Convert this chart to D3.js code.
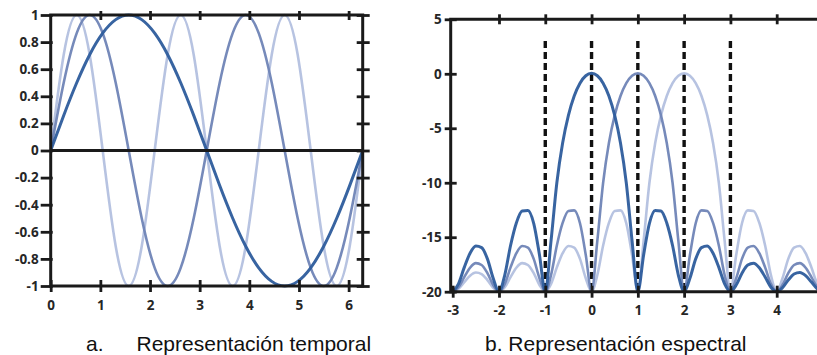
<!DOCTYPE html>
<html>
<head>
<meta charset="utf-8">
<script src="https://cdn.jsdelivr.net/npm/d3@7"></script>
<style>
  html, body { margin: 0; padding: 0; background: #fff; }
  svg { display: block; }
</style>
</head>
<body>
<svg id="chart" width="817" height="355"></svg>
<script>
// ---------- Data: temporal representation ----------
const timeX = [0, 0.262, 0.524, 0.785, 1.047, 1.309, 1.571, 1.833, 2.094, 2.356, 2.618, 2.880, 3.142,
               3.403, 3.665, 3.927, 4.189, 4.451, 4.712, 4.974, 5.236, 5.498, 5.760, 6.021, 6.283];
const waveSlow = [0, 0.259, 0.5, 0.707, 0.866, 0.966, 1, 0.966, 0.866, 0.707, 0.5, 0.259, 0,
                  -0.259, -0.5, -0.707, -0.866, -0.966, -1, -0.966, -0.866, -0.707, -0.5, -0.259, 0];
const waveMid = [0, 0.5, 0.866, 1, 0.866, 0.5, 0, -0.5, -0.866, -1, -0.866, -0.5, 0,
                 0.5, 0.866, 1, 0.866, 0.5, 0, -0.5, -0.866, -1, -0.866, -0.5, 0];
const waveFast = [0, 0.707, 1, 0.707, 0, -0.707, -1, -0.707, 0, 0.707, 1, 0.707, 0,
                  -0.707, -1, -0.707, 0, 0.707, 1, 0.707, 0, -0.707, -1, -0.707, 0];
const timeXTicks = [0, 1, 2, 3, 4, 5, 6];
const timeYTicks = [-1, -0.8, -0.6, -0.4, -0.2, 0, 0.2, 0.4, 0.6, 0.8, 1];

// ---------- Data: spectral representation ----------
const freqX = [-3, -2.875, -2.75, -2.625, -2.5, -2.375, -2.25, -2.125, -2, -1.875, -1.75, -1.625, -1.5,
  -1.375, -1.25, -1.125, -1, -0.875, -0.75, -0.625, -0.5, -0.375, -0.25, -0.125, 0, 0.125, 0.25, 0.375,
  0.5, 0.625, 0.75, 0.875, 1, 1.125, 1.25, 1.375, 1.5, 1.625, 1.75, 1.875, 2, 2.125, 2.25, 2.375, 2.5,
  2.625, 2.75, 2.875, 3, 3.125, 3.25, 3.375, 3.5, 3.625, 3.75, 3.875, 4, 4.125, 4.25, 4.375, 4.5, 4.625,
  4.75, 4.875, 5];
const specA = [-20, -19.28, -17.77, -16.47, -15.81, -15.96, -16.99, -18.77, -20, -18.47, -15.76, -13.69,
  -12.59, -12.54, -13.72, -16.63, -20, -15.32, -10.00, -6.36, -3.82, -2.04, -0.86, -0.18, 0.04, -0.18,
  -0.86, -2.04, -3.82, -6.36, -10.00, -15.32, -20, -16.63, -13.72, -12.54, -12.59, -13.69, -15.76,
  -18.47, -20, -18.77, -16.99, -15.96, -15.81, -16.47, -17.77, -19.28, -20, -19.39, -18.30, -17.55,
  -17.38, -17.80, -18.66, -19.59, -20, -19.64, -18.93, -18.38, -18.24, -18.53, -19.12, -19.74, -20];
const specB = [-20, -19.59, -18.66, -17.80, -17.38, -17.55, -18.30, -19.39, -20, -19.28, -17.77, -16.47,
  -15.81, -15.96, -16.99, -18.77, -20, -18.47, -15.76, -13.69, -12.59, -12.54, -13.72, -16.63, -20,
  -15.32, -10.00, -6.36, -3.82, -2.04, -0.86, -0.18, 0.04, -0.18, -0.86, -2.04, -3.82, -6.36, -10.00,
  -15.32, -20, -16.63, -13.72, -12.54, -12.59, -13.69, -15.76, -18.47, -20, -18.77, -16.99, -15.96,
  -15.81, -16.47, -17.77, -19.28, -20, -19.39, -18.30, -17.55, -17.38, -17.80, -18.66, -19.59, -20];
const specC = [-20, -19.74, -19.12, -18.53, -18.24, -18.38, -18.93, -19.64, -20, -19.59, -18.66, -17.80,
  -17.38, -17.55, -18.30, -19.39, -20, -19.28, -17.77, -16.47, -15.81, -15.96, -16.99, -18.77, -20,
  -18.47, -15.76, -13.69, -12.59, -12.54, -13.72, -16.63, -20, -15.32, -10.00, -6.36, -3.82, -2.04,
  -0.86, -0.18, 0.04, -0.18, -0.86, -2.04, -3.82, -6.36, -10.00, -15.32, -20, -16.63, -13.72, -12.54,
  -12.59, -13.69, -15.76, -18.47, -20, -18.77, -16.99, -15.96, -15.81, -16.47, -17.77, -19.28, -20];
const freqXTicks = [-3, -2, -1, 0, 1, 2, 3, 4];
const freqYTicks = [5, 0, -5, -10, -15, -20];
const markerFreqs = [-1, 0, 1, 2, 3];
const markerTop = 3;

const captionLetters = ["a.", "b."];
const captionTexts = ["Representación temporal", "Representación espectral"];

// ---------- Styles ----------
const colDark = "#2d5c9c", colMid = "#6f84b6", colLight = "#b3c0df";
const axisCol = "#1a1a1a";
const tickFont = "'Open Sans', sans-serif";

const svg = d3.select("#chart");
const defs = svg.append("defs");

function styleAxis(g) {
  g.select(".domain").remove();
  g.selectAll(".tick line").attr("stroke", axisCol).attr("stroke-width", 2.8);
  g.selectAll(".tick text").attr("fill", "#262626").attr("font-family", tickFont)
    .attr("font-weight", "bold").attr("font-size", 13.5);
}

// ================= LEFT: temporal =================
const L = { x0: 50.7, x1: 362.7, yTop: 15, yBot: 286 };
const xT = d3.scaleLinear().domain([0, 2 * Math.PI]).range([L.x0, L.x1]);
const yT = d3.scaleLinear().domain([-1, 1]).range([L.yBot, L.yTop]);

defs.append("clipPath").attr("id", "clipL").append("rect")
  .attr("x", L.x0).attr("y", L.yTop - 2).attr("width", L.x1 - L.x0).attr("height", L.yBot - L.yTop + 4);

const gL = svg.append("g");
const lineT = d3.line().x(d => xT(d[0])).y(d => yT(d[1])).curve(d3.curveNatural);
const tSeries = [
  { v: waveFast, c: colLight, w: 2.6 },
  { v: waveMid, c: colMid, w: 2.6 },
  { v: waveSlow, c: colDark, w: 3 }
];
gL.append("g").attr("clip-path", "url(#clipL)").selectAll("path").data(tSeries).join("path")
  .attr("d", s => lineT(timeX.map((t, i) => [t, s.v[i]])))
  .attr("fill", "none").attr("stroke", s => s.c).attr("stroke-width", s => s.w).attr("opacity", 0.95);

// frame + zero line
gL.append("line").attr("x1", L.x0).attr("x2", L.x1).attr("y1", yT(0)).attr("y2", yT(0))
  .attr("stroke", axisCol).attr("stroke-width", 3);
gL.append("rect").attr("x", L.x0).attr("y", L.yTop).attr("width", L.x1 - L.x0).attr("height", L.yBot - L.yTop)
  .attr("fill", "none").attr("stroke", axisCol).attr("stroke-width", 3);

// bottom axis
const axBL = gL.append("g").attr("transform", `translate(0,${L.yBot})`)
  .call(d3.axisBottom(xT).tickValues(timeXTicks).tickFormat(d3.format("d")).tickSize(6).tickPadding(8));
styleAxis(axBL);
axBL.selectAll(".tick line").attr("y1", -6).attr("y2", 6);
// top ticks
const axTL = gL.append("g").attr("transform", `translate(0,${L.yTop})`)
  .call(d3.axisTop(xT).tickValues(timeXTicks.slice(1)).tickFormat("").tickSize(5));
styleAxis(axTL);
axTL.selectAll(".tick line").attr("y1", -4).attr("y2", 5);
// left axis
const axLL = gL.append("g").attr("transform", `translate(${L.x0},0)`)
  .call(d3.axisLeft(yT).tickValues(timeYTicks).tickSize(10).tickPadding(2));
styleAxis(axLL);
axLL.selectAll(".tick line").attr("x1", 2).attr("x2", -10);
axLL.selectAll(".tick text").text(d => String(d));
// right ticks
const axRL = gL.append("g").attr("transform", `translate(${L.x1},0)`)
  .call(d3.axisRight(yT).tickValues(timeYTicks).tickFormat("").tickSize(6));
styleAxis(axRL);
axRL.selectAll(".tick line").attr("x1", -6).attr("x2", 7);

// ================= RIGHT: spectral =================
const R = { x0: 450.7, yTop: 19.3, yBot: 291.7 };
const xF = d3.scaleLinear().domain([-3, 4]).range([452.7, 776.7]);
const yF = d3.scaleLinear().domain([-20, 5]).range([R.yBot, R.yTop]);
const xRight = xF(5);

defs.append("clipPath").attr("id", "clipR").append("rect")
  .attr("x", R.x0).attr("y", R.yTop - 2).attr("width", 817 - R.x0).attr("height", R.yBot - R.yTop + 4);

const gR = svg.append("g");

// dashed markers
gR.append("g").selectAll("line").data(markerFreqs).join("line")
  .attr("x1", d => xF(d)).attr("x2", d => xF(d))
  .attr("y1", yF(markerTop)).attr("y2", yF(-20))
  .attr("stroke", "#111").attr("stroke-width", 3.4).attr("stroke-dasharray", "7,4");

const lineF = d3.line().x(d => xF(d[0])).y(d => yF(d[1])).curve(d3.curveMonotoneX);
const fSeries = [
  { v: specC, c: colLight, w: 2.6 },
  { v: specB, c: colMid, w: 2.6 },
  { v: specA, c: colDark, w: 3 }
];
gR.append("g").attr("clip-path", "url(#clipR)").selectAll("path").data(fSeries).join("path")
  .attr("d", s => lineF(freqX.map((f, i) => [f, s.v[i]])))
  .attr("fill", "none").attr("stroke", s => s.c).attr("stroke-width", s => s.w).attr("opacity", 0.95);

// frame
gR.append("path")
  .attr("d", `M${xRight},${R.yTop}H${R.x0}V${R.yBot}H${xRight}`)
  .attr("fill", "none").attr("stroke", axisCol).attr("stroke-width", 3);

const axBR = gR.append("g").attr("transform", `translate(0,${R.yBot})`)
  .call(d3.axisBottom(xF).tickValues(freqXTicks).tickSize(6).tickPadding(8));
styleAxis(axBR);
axBR.selectAll(".tick line").attr("y1", -6).attr("y2", 6);
axBR.selectAll(".tick text").text(d => String(d));

const axTR = gR.append("g").attr("transform", `translate(0,${R.yTop})`)
  .call(d3.axisTop(xF).tickValues(freqXTicks.slice(1)).tickFormat("").tickSize(5));
styleAxis(axTR);
axTR.selectAll(".tick line").attr("y1", -5).attr("y2", 5);

const axLR = gR.append("g").attr("transform", `translate(${R.x0},0)`)
  .call(d3.axisLeft(yF).tickValues(freqYTicks).tickSize(6).tickPadding(3));
styleAxis(axLR);
axLR.selectAll(".tick line").attr("x1", 6).attr("x2", -6);
axLR.selectAll(".tick text").text(d => String(d));

// ================= Captions =================
const capFont = "'Liberation Sans', Arial, sans-serif";
const capG = svg.append("g").attr("font-family", capFont).attr("font-size", 21).attr("fill", "#111");
capG.append("text").attr("x", 86).attr("y", 351).text(captionLetters[0]);
capG.append("text").attr("x", 136.5).attr("y", 351).text(captionTexts[0]);
capG.append("text").attr("x", 485).attr("y", 351).text(captionLetters[1] + " " + captionTexts[1]);
</script>
</body>
</html>
